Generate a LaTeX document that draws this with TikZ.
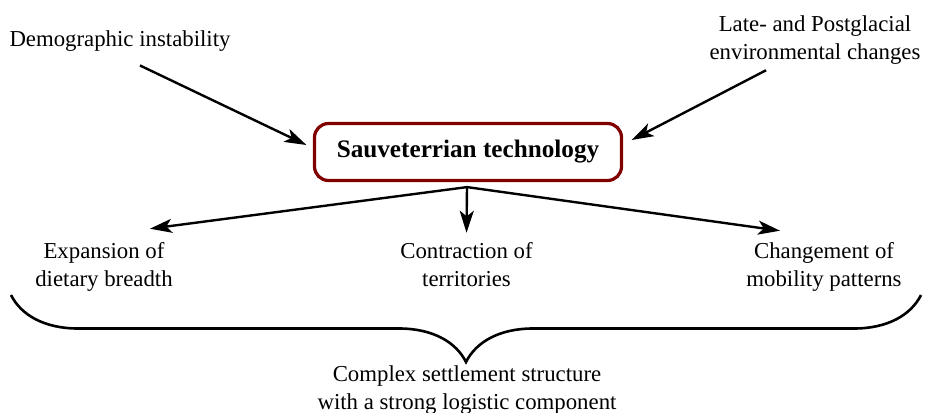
\documentclass[tikz,border=0pt]{standalone}
\usepackage{fontspec}
\setmainfont{Liberation Serif}
\usetikzlibrary{arrows.meta,decorations.pathreplacing}
\definecolor{boxred}{RGB}{128,0,0}
\begin{document}
\begin{tikzpicture}[x=0.5pt,y=-0.5pt,
  lbl/.style={font=\fontsize{11.4}{14}\selectfont,align=center,inner sep=0pt},
  arr/.style={line width=1.2pt,-{Stealth[length=11pt,width=7pt,inset=2.8pt]}},
  techbox/.style={draw=boxred,line width=1.6pt,rounded corners=7pt,minimum width=153.5pt,minimum height=28.5pt,inner sep=0pt,font=\fontsize{12.6}{15}\bfseries\selectfont}]
\useasboundingbox (0,0) rectangle (925,412);
% causes
\node[lbl] (demo) at (120,41.2) {Demographic instability};
\node[lbl] (late) at (815,40.5) {Late- and Postglacial\\environmental changes};
\node[techbox] (tech) at (468,152) {Sauveterrian technology};
\draw[arr] ([xshift=10pt,yshift=-6.75pt]demo.south) -- ([xshift=-3.25pt,yshift=3.5pt]tech.west);
\draw[arr] ([xshift=-24.5pt,yshift=-2.5pt]late.south) -- ([xshift=4.25pt,yshift=6pt]tech.east);
% effects
\node[lbl] (exp) at (104,267) {Expansion of\\dietary breadth};
\node[lbl] (cont) at (466.5,264.7) {Contraction of\\territories};
\node[lbl] (chg) at (824,267) {Changement of\\mobility patterns};
\coordinate (fork) at ([xshift=-0.5pt,yshift=-2.5pt]tech.south);
\draw[arr] (fork) -- ([xshift=23pt,yshift=6.7pt]exp.north);
\draw[arr] (fork) -- ([yshift=4.7pt]cont.north);
\draw[arr] (fork) -- ([xshift=-22pt,yshift=5.7pt]chg.north);
% outcome
\coordinate (bl) at (11,295);
\coordinate (br) at (921,295);
\draw[line width=1.3pt,decorate,decoration={brace,mirror,amplitude=33.5pt}] (bl) -- (br);
\node[lbl] (outc) at (467,390.5) {Complex settlement structure\\with a strong logistic component};
\end{tikzpicture}
\end{document}
